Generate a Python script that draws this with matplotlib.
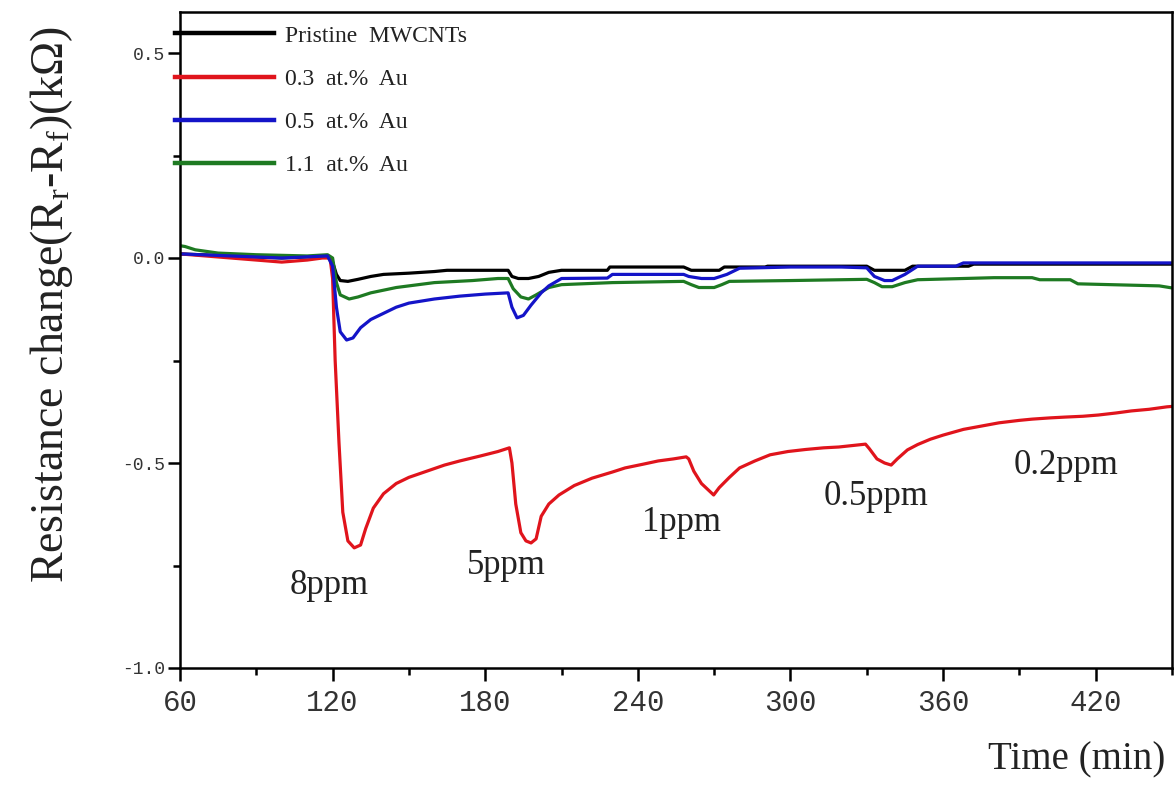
import numpy as np
import matplotlib
matplotlib.use('Agg')
import matplotlib.pyplot as plt
from matplotlib.ticker import MultipleLocator

plt.rcParams['font.family'] = ['Liberation Serif', 'DejaVu Serif']
plt.rcParams['mathtext.fontset'] = 'custom'
plt.rcParams['mathtext.rm'] = 'Liberation Serif'
plt.rcParams['mathtext.it'] = 'Liberation Serif'

## data (time in min, resistance change in kOhm)
t_black = [60, 80, 100, 118, 120, 121.5, 123, 126, 130, 135, 140, 150, 160, 165, 175, 185, 189, 190.5, 193, 197,
           201, 205, 210, 228, 229, 258, 261, 272, 274, 290, 291, 330, 333, 345, 348, 370, 372, 450]
v_black = [0.01, 0.005, 0.0, 0.005, -0.01, -0.04, -0.055, -0.057, -0.052, -0.045, -0.04, -0.037, -0.033, -0.03,
           -0.03, -0.03, -0.03, -0.045, -0.05, -0.05, -0.045, -0.035, -0.03, -0.03, -0.022, -0.022, -0.03, -0.03,
           -0.022, -0.022, -0.02, -0.02, -0.03, -0.03, -0.02, -0.02, -0.015, -0.015]

t_red = [60, 70, 80, 90, 100, 110, 116, 119, 120, 121, 122.5, 124, 126, 128.5, 131, 133, 136, 140, 145, 150, 157,
         164, 170, 178, 185, 189.5, 190.5, 192, 194, 196, 198, 200, 202, 205, 209, 215, 222, 230, 235, 242, 248,
         254, 259, 260, 262, 265, 269.8, 272, 276, 280, 286, 292, 299, 306, 313, 319, 325, 329.5, 331, 334, 337,
         339.6, 342, 346, 350, 355, 360, 368, 375, 382, 390, 395, 402, 408, 415, 421, 428, 434, 441, 448, 450]
v_red = [0.01, 0.005, 0.0, -0.005, -0.01, -0.005, 0.0, 0.0, -0.05, -0.25, -0.45, -0.62, -0.69, -0.707, -0.70,
         -0.66, -0.61, -0.575, -0.55, -0.535, -0.52, -0.505, -0.495, -0.483, -0.472, -0.463, -0.50, -0.6, -0.67,
         -0.69, -0.695, -0.685, -0.63, -0.6, -0.578, -0.555, -0.537, -0.522, -0.512, -0.503, -0.495, -0.49, -0.485,
         -0.49, -0.52, -0.55, -0.578, -0.56, -0.535, -0.512, -0.495, -0.48, -0.472, -0.467, -0.463, -0.461, -0.457,
         -0.454, -0.465, -0.49, -0.5, -0.505, -0.49, -0.468, -0.455, -0.442, -0.432, -0.418, -0.41, -0.402, -0.396,
         -0.393, -0.39, -0.388, -0.386, -0.383, -0.378, -0.373, -0.369, -0.363, -0.362]

t_blue = [60, 80, 100, 118, 120, 121.5, 123, 125.5, 128, 131, 135, 140, 145, 150, 160, 170, 180, 189, 190.5, 192.5,
          195, 198, 202, 205, 210, 228, 230, 258, 260, 265, 270, 275, 280, 300, 320, 330, 333, 337, 340, 345, 350,
          365, 368, 450]
v_blue = [0.01, 0.005, 0.0, 0.005, -0.02, -0.12, -0.18, -0.20, -0.195, -0.17, -0.15, -0.135, -0.12, -0.11, -0.1,
          -0.093, -0.088, -0.085, -0.12, -0.146, -0.14, -0.115, -0.085, -0.068, -0.05, -0.049, -0.04, -0.04, -0.045,
          -0.05, -0.05, -0.04, -0.025, -0.022, -0.022, -0.024, -0.045, -0.055, -0.055, -0.04, -0.02, -0.02, -0.012,
          -0.012]

t_green = [60, 62, 66, 75, 90, 110, 118, 120, 121.5, 123, 126.5, 130, 135, 145, 160, 175, 185, 189, 191, 194, 197,
           200, 205, 210, 230, 258, 261, 264, 270, 273, 276, 300, 330, 333, 336, 340, 345, 350, 380, 395, 398, 410,
           413, 445, 450]
v_green = [0.03, 0.028, 0.02, 0.012, 0.008, 0.005, 0.008, 0.0, -0.06, -0.09, -0.1, -0.095, -0.085, -0.072, -0.06,
           -0.055, -0.05, -0.05, -0.075, -0.095, -0.1, -0.09, -0.072, -0.065, -0.06, -0.057, -0.065, -0.072, -0.072,
           -0.065, -0.057, -0.055, -0.052, -0.06, -0.07, -0.07, -0.06, -0.053, -0.048, -0.048, -0.053, -0.053,
           -0.063, -0.068, -0.073]

labels = ['Pristine  MWCNTs', '0.3  at.%  Au', '0.5  at.%  Au', '1.1  at.%  Au']
conc_labels = ['8ppm', '5ppm', '1ppm', '0.5ppm', '0.2ppm']
conc_x = [118.8, 188.2, 257.3, 333.7, 408.2]
conc_y = [-0.8, -0.75, -0.646, -0.582, -0.505]

fig = plt.figure(figsize=(11.75, 7.86), dpi=100)
ax = fig.add_axes([180 / 1175, 1 - 668 / 786, 992 / 1175, 656 / 786])

lw = 2.3
l_black, = ax.plot(t_black, v_black, color='#000000', lw=lw)
l_red, = ax.plot(t_red, v_red, color='#e0141c', lw=lw)
l_green, = ax.plot(t_green, v_green, color='#1e7a22', lw=lw)
l_blue, = ax.plot(t_blue, v_blue, color='#1414c8', lw=lw)

for s, x, y in zip(conc_labels, conc_x, conc_y):
    ax.text(x, y, s, fontsize=25, ha='center', va='center', color='#222222')

leg = ax.legend([l_black, l_red, l_blue, l_green], labels, loc='upper left', bbox_to_anchor=(-0.005, 0.98),
                frameon=False, handlelength=4.2, handletextpad=0.45, labelspacing=0.92,
                borderaxespad=0, borderpad=0, prop={'family': 'Liberation Serif', 'size': 17})
for ln in leg.get_lines():
    ln.set_linewidth(3.2)
for txt in leg.get_texts():
    txt.set_color('#222222')

ax.set_xlim(60, 450)
ax.set_ylim(-1.0, 0.6)
ax.xaxis.set_major_locator(MultipleLocator(60))
ax.xaxis.set_minor_locator(MultipleLocator(30))
ax.yaxis.set_minor_locator(MultipleLocator(0.25))
ax.set_yticks([-1.0, -0.5, 0.0, 0.5])
ax.set_yticklabels(['-1.0', '-0.5', '0.0', '0.5'])
ax.tick_params(which='both', direction='out', width=1.8, top=False, right=False)
ax.tick_params(which='major', length=9)
ax.tick_params(which='minor', length=5)
for lab in ax.get_xticklabels():
    lab.set_fontfamily('Liberation Mono')
    lab.set_fontsize(21)
    lab.set_color('#333333')
for lab in ax.get_yticklabels():
    lab.set_fontfamily('Liberation Mono')
    lab.set_fontsize(13)
    lab.set_color('#333333')
ax.tick_params(axis='x', pad=6)
ax.tick_params(axis='y', pad=2)
for sp in ax.spines.values():
    sp.set_linewidth(1.8)

fig.text(52 / 1175, 1 - 305 / 786, r'Resistance change(R$_\mathrm{r}$-R$_\mathrm{f}$)(k$\Omega$)', rotation=90,
         ha='center', va='center', fontsize=33, color='#222222')
fig.text(1165 / 1175, 1 - 760 / 786, 'Time (min)', ha='right', va='center', fontsize=28, color='#222222')

fig.savefig('out.png', dpi=100)
